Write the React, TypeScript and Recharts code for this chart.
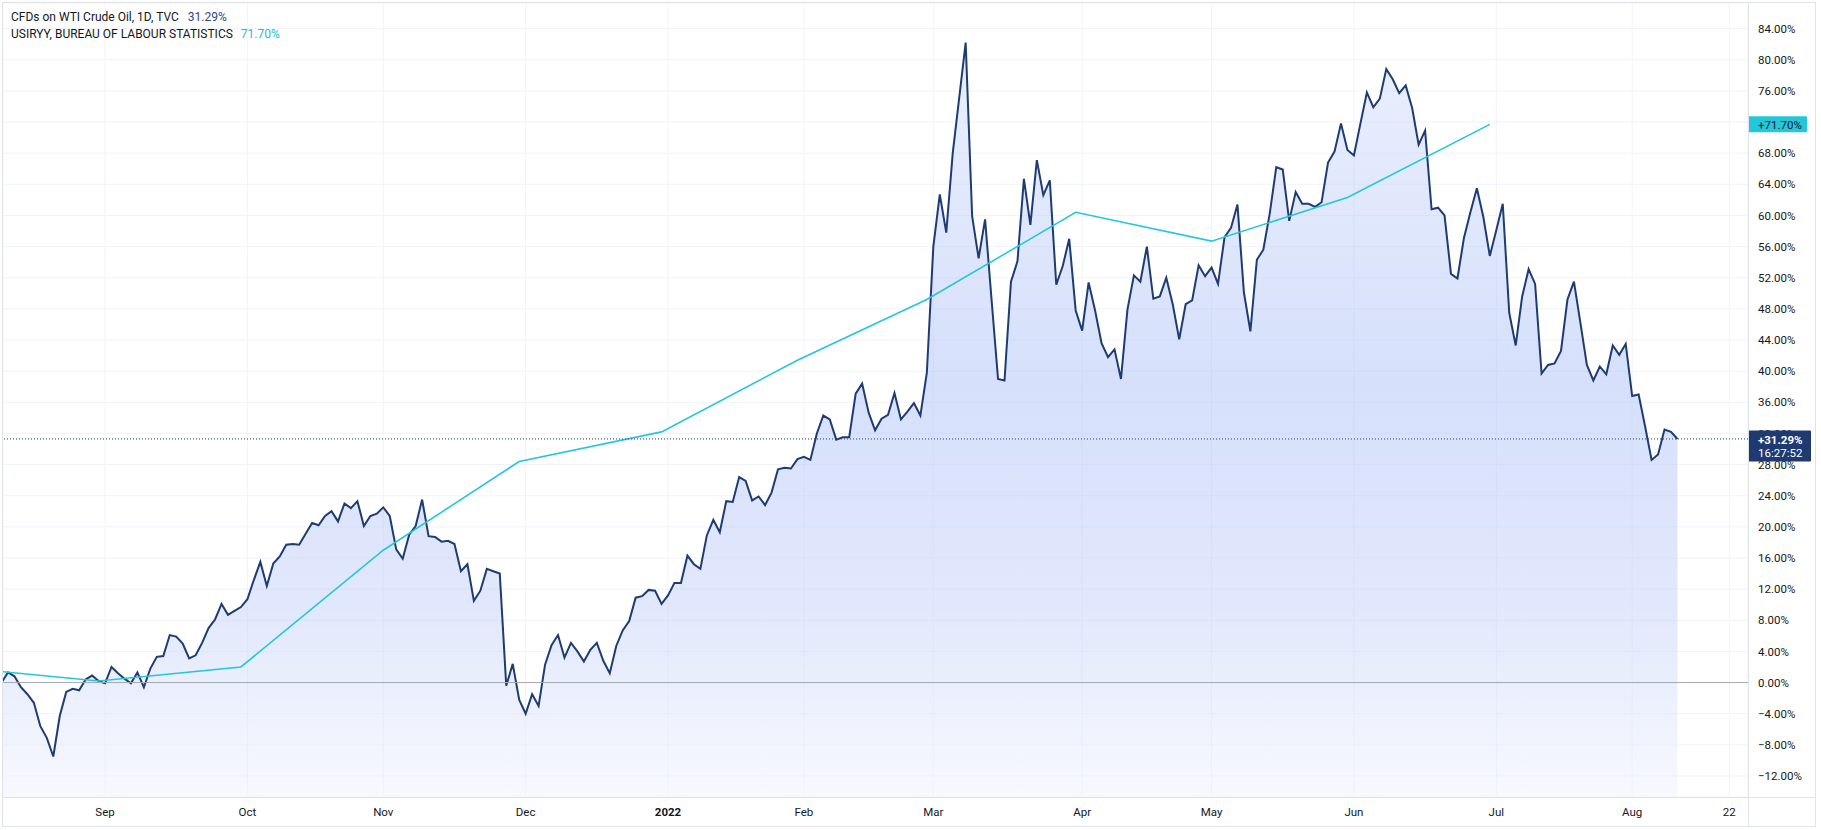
import React from 'react';
import { ComposedChart, Area, Line, XAxis, YAxis, CartesianGrid, ReferenceLine } from 'recharts';

// CFDs on WTI Crude Oil, daily % change since first visible bar (one value per trading day)
const oilPct = [
  0, 1.3, 0.8, -0.6, -1.5, -2.6, -5.6, -7.1, -9.5, -4.3,
  -1.2, -0.8, -1.0, 0.4, 0.9, 0.2, -0.1, 2.0, 1.2, 0.5,
  -0.1, 1.3, -0.6, 1.8, 3.3, 3.4, 6.1, 5.9, 5.0, 3.1,
  3.5, 5.1, 7.0, 8.1, 10.1, 8.7, 9.2, 9.7, 10.7, 13.2,
  15.5, 12.4, 15.3, 16.2, 17.7, 17.8, 17.7, 19.1, 20.5, 20.2,
  21.4, 22.0, 20.7, 23.0, 22.4, 23.3, 20.1, 21.4, 21.7, 22.5,
  21.4, 17.1, 15.9, 19.0, 20.1, 23.5, 18.8, 18.7, 18.1, 18.2,
  17.8, 14.3, 15.2, 10.5, 11.8, 14.6, 14.3, 14.0, -0.4, 2.4,
  -2.2, -4.0, -1.5, -3.0, 2.3, 4.8, 6.1, 3.2, 5.1, 4.0,
  2.7, 4.2, 5.1, 2.8, 1.2, 4.7,
  6.7, 7.9, 10.9, 11.1, 11.9, 11.8, 10.1, 11.2, 12.8, 12.8,
  16.3, 15.2, 14.6, 18.9, 20.9, 19.3, 23.3, 23.2, 26.4, 25.9,
  23.4, 23.9, 22.8, 24.4, 27.4, 27.6, 27.5, 28.7, 29.0, 28.6,
  32.0, 34.3, 33.8, 31.2, 31.5, 31.5, 37.1, 38.4, 34.7, 32.4,
  33.9, 34.4, 37.2, 33.8, 34.8, 35.9, 34.3, 39.8,
  56.0, 62.7, 57.8, 68.0, 75.1, 82.2, 59.9, 54.5, 59.5, 49.2,
  39.0, 38.8, 51.5, 54.1, 64.7, 58.8, 67.1, 62.6, 64.5, 51.1,
  53.5, 57.0, 47.8, 45.2, 51.4, 47.8, 43.6, 41.8, 42.8, 39.0,
  47.9, 52.3, 51.5, 56.0, 49.3, 49.6, 52.0, 48.6, 44.1, 48.6,
  49.1, 53.6, 52.2, 53.3, 51.2, 57.2, 58.4, 61.4, 50.1, 45.1,
  54.3, 55.6, 60.3, 66.2, 65.9, 59.3, 63.0, 61.5, 61.5, 61.1,
  61.7, 66.8, 68.2, 71.8, 68.4, 67.7, 71.8, 75.8, 73.9, 75.0,
  78.8, 77.5, 75.7,
  76.7, 73.8, 69.1, 70.9, 60.8, 61.0, 60.0, 52.5, 51.9, 57.1,
  60.4, 63.5, 59.8, 54.8, 58.1, 61.5, 47.5, 43.3, 49.6, 53.1,
  51.2, 39.7, 40.8, 41.0, 42.6, 49.2, 51.5, 46.2, 40.8, 38.8,
  40.6, 39.6, 43.3, 42.1, 43.5, 36.8, 37.0, 32.9, 28.6, 29.3,
  32.5, 32.2, 31.29,
];

// USIRYY monthly points (trading-day index, % change)
const cpiIdx = [0, 15, 37, 59, 80, 102, 123, 143, 166, 187, 208, 230];
const cpiPct = [1.4, 0.2, 2.0, 17.0, 28.4, 32.2, 41.4, 49.2, 60.4, 56.7, 62.3, 71.7];

// time axis
const monthTickIdx = [16, 38, 59, 81, 103, 124, 144, 167, 187, 209, 231, 252, 267];
const monthTickLabels = ['Sep', 'Oct', 'Nov', 'Dec', '2022', 'Feb', 'Mar', 'Apr', 'May', 'Jun', 'Jul', 'Aug', '22'];

// price axis
const yTicks = [-12, -8, -4, 0, 4, 8, 12, 16, 20, 24, 28, 32, 36, 40, 44, 48, 52, 56, 60, 64, 68, 72, 76, 80, 84];

const lastOil = 31.29;
const lastCpi = 71.7;
const lastTime = '16:27:52';
const oilName = 'CFDs on WTI Crude Oil, 1D, TVC';
const cpiName = 'USIRYY, BUREAU OF LABOUR STATISTICS';

const X_DOMAIN: [number, number] = [0.23, 269.9];
const Y_DOMAIN: [number, number] = [-14.7, 87.29];

const oilRows = oilPct.map((v, i) => ({ i, oil: v }));
const cpiRows = cpiIdx.map((i, k) => ({ i, cpi: cpiPct[k] }));

const NAVY = '#1e3c72';
const CYAN = '#26c6da';
const TEXT = '#131722';
const FONT = 'Roboto, "Noto Sans", sans-serif';
const MARGIN = { top: 3, right: 5, bottom: 4, left: 3 };

const fmtPct = (v: number) => (v < 0 ? '\u2212' : '') + Math.abs(v).toFixed(2) + '%';
const fmtSigned = (v: number) => (v >= 0 ? '+' : '\u2212') + Math.abs(v).toFixed(2) + '%';

function XTick(props: any) {
  const { x, y, payload } = props;
  const k = monthTickIdx.indexOf(payload.value);
  const label = k >= 0 ? monthTickLabels[k] : '';
  const isYear = /^\d{4}$/.test(label);
  return (
    <text x={x} y={y} dy="0.71em" textAnchor="middle" fontSize={11.5} fontFamily={FONT} fill={TEXT} fontWeight={isYear ? 700 : 400}>
      {label}
    </text>
  );
}

// price-axis label; the one completely hidden under the USIRYY last-value tag is not drawn
function YTick(props: any) {
  const { x, y, payload } = props;
  if (Math.abs(payload.value - lastCpi) < 1) return <g />;
  return (
    <text x={x} y={y} dy="0.355em" textAnchor="start" fontSize={11.5} fontFamily={FONT} fill={TEXT}>
      {fmtPct(payload.value)}
    </text>
  );
}

function PriceTag(props: any) {
  const { viewBox, bg, color, lines, w, h, topOff } = props;
  if (!viewBox) return null;
  const x = viewBox.x + viewBox.width;
  const y = viewBox.y;
  return (
    <g>
      <rect x={x} y={y - topOff} width={w} height={h} fill={bg} rx={1} />
      {lines.map((t: string, k: number) => (
        <text
          key={k}
          x={x + 10}
          y={y + 0.5 + k * 13.5}
          dy="0.355em"
          fontSize={11.5}
          fontFamily={FONT}
          fill={color}
          fontWeight={k === 0 && lines.length > 1 ? 700 : 400}
        >
          {t}
        </text>
      ))}
    </g>
  );
}

export default function App() {
  return (
    <div style={{ position: 'absolute', left: 0, top: 0, width: 1821, height: 830, background: '#ffffff', fontFamily: FONT }}>
      <ComposedChart width={1821} height={830} data={oilRows} margin={MARGIN}>
        <defs>
          <linearGradient id="oilFill" x1="0" y1="0" x2="0" y2="1">
            <stop offset="0" stopColor="rgb(213,223,251)" stopOpacity={0.5} />
            <stop offset="0.45" stopColor="rgb(173,193,247)" stopOpacity={0.5} />
            <stop offset="0.75" stopColor="rgb(197,209,249)" stopOpacity={0.5} />
            <stop offset="1" stopColor="rgb(239,243,253)" stopOpacity={0.5} />
          </linearGradient>
        </defs>
        <CartesianGrid stroke="#f0f3fa" strokeWidth={1} />
        <XAxis
          dataKey="i"
          type="number"
          domain={X_DOMAIN}
          allowDataOverflow
          ticks={monthTickIdx}
          interval={0}
          tick={<XTick />}
          tickLine={false}
          axisLine={false}
          tickSize={0}
          tickMargin={11}
          height={29}
        />
        <YAxis
          orientation="right"
          type="number"
          domain={Y_DOMAIN}
          allowDataOverflow
          ticks={yTicks}
          interval={0}
          tick={<YTick />}
          tickLine={false}
          axisLine={false}
          tickSize={0}
          tickMargin={10}
          width={68}
        />
        <Line
          data={cpiRows}
          dataKey="cpi"
          type="linear"
          stroke={CYAN}
          strokeWidth={1.6}
          dot={false}
          activeDot={false}
          isAnimationActive={false}
        />
        <Area
          dataKey="oil"
          type="linear"
          stroke={NAVY}
          strokeWidth={2}
          fill="url(#oilFill)"
          fillOpacity={1}
          baseValue={Y_DOMAIN[0]}
          dot={false}
          activeDot={false}
          isAnimationActive={false}
        />
        <ReferenceLine y={0} stroke="#a5a8b1" strokeWidth={1} />
        <ReferenceLine y={lastOil} stroke={NAVY} strokeWidth={1} strokeDasharray="1 2" />
      </ComposedChart>

      {/* overlay chart with the same scales: last-value tags drawn above the price-axis labels */}
      <div style={{ position: 'absolute', left: 0, top: 0 }}>
        <ComposedChart width={1821} height={830} data={oilRows} margin={MARGIN}>
          <XAxis dataKey="i" type="number" domain={X_DOMAIN} allowDataOverflow tick={false} tickLine={false} axisLine={false} height={29} />
          <YAxis orientation="right" type="number" domain={Y_DOMAIN} allowDataOverflow tick={false} tickLine={false} axisLine={false} width={68} />
          <ReferenceLine
            y={lastOil}
            stroke="none"
            label={<PriceTag bg="#1e3a70" color="#ffffff" lines={[fmtSigned(lastOil), lastTime]} w={63} h={31} topOff={8.4} />}
          />
          <ReferenceLine
            y={lastCpi}
            stroke="none"
            label={<PriceTag bg={CYAN} color={TEXT} lines={[fmtSigned(lastCpi)]} w={59} h={16} topOff={8} />}
          />
        </ComposedChart>
      </div>

      {/* pane separators and frame */}
      <div style={{ position: 'absolute', left: 1748, top: 2, width: 1, height: 825, background: '#e0e3eb' }} />
      <div style={{ position: 'absolute', left: 2, top: 797, width: 1814, height: 1, background: '#e0e3eb' }} />
      <div style={{ position: 'absolute', left: 2, top: 2, width: 1812, height: 823, border: '1px solid #e0e3eb', pointerEvents: 'none' }} />

      {/* legend */}
      <div style={{ position: 'absolute', left: 11, top: 9, fontSize: 12, lineHeight: '17px', color: TEXT, whiteSpace: 'nowrap', fontFamily: FONT }}>
        <div>
          {oilName}
          <span style={{ marginLeft: 9, color: '#2b4a86' }}>{lastOil.toFixed(2)}%</span>
        </div>
        <div>
          {cpiName}
          <span style={{ marginLeft: 8, color: '#22bcd6' }}>{lastCpi.toFixed(2)}%</span>
        </div>
      </div>
    </div>
  );
}
